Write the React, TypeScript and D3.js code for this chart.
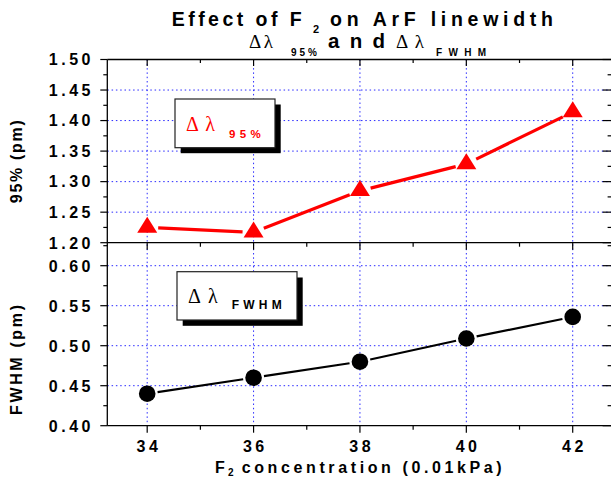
import React from 'react';
import * as d3 from 'd3';

// ---- data ----
const concentrations = [34, 36, 38, 40, 42];
const width95 = [1.225, 1.217, 1.285, 1.329, 1.414];
const widthFWHM = [0.44, 0.46, 0.48, 0.509, 0.536];

const xMajorTicks = [34, 36, 38, 40, 42];
const xMinorTicks = [35, 37, 39, 41];
const topMajorTicks = [1.2, 1.25, 1.3, 1.35, 1.4, 1.45, 1.5];
const topMinorTicks = [1.225, 1.275, 1.325, 1.375, 1.425, 1.475];
const botMajorTicks = [0.4, 0.45, 0.5, 0.55, 0.6];
const botMinorTicks = [0.425, 0.475, 0.525, 0.575, 0.625];

const SANS = '"Liberation Sans", Arial, sans-serif';
const SERIF = '"Liberation Serif", "Times New Roman", serif';
const GRID = '#2b2bff';

export default function App() {
  const W = 611, H = 481;
  const x = d3.scaleLinear().domain([33.25, 42.75]).range([107.3, 612.6]);
  const yTop = d3.scaleLinear().domain([1.2, 1.5]).range([242.7, 59.5]);
  const yBot = d3.scaleLinear().domain([0.4, 0.62875]).range([425.7, 242.7]);
  const fmt = d3.format('.2f');

  const left = x.range()[0], right = x.range()[1];
  const topY = yTop.range()[1], midY = yTop.range()[0], botY = yBot.range()[0];

  const topPts = concentrations.map((c, i) => [x(c), yTop(width95[i])]);
  const botPts = concentrations.map((c, i) => [x(c), yBot(widthFWHM[i])]);

  const segs = (pts: number[][], gap: number) =>
    pts.slice(0, -1).map((p, i) => {
      const q = pts[i + 1];
      const dx = q[0] - p[0], dy = q[1] - p[1];
      const L = Math.hypot(dx, dy);
      const ux = dx / L, uy = dy / L;
      return [p[0] + ux * gap, p[1] + uy * gap, q[0] - ux * gap, q[1] - uy * gap];
    });

  const tri = (cx: number, cy: number) =>
    `M${cx},${cy - 10.7}L${cx + 10},${cy + 5.3}L${cx - 10},${cy + 5.3}Z`;

  const hGrid = (ticks: number[], y: (v: number) => number, key: string) =>
    ticks.map((t) => (
      <line key={key + t} x1={left} x2={right} y1={y(t)} y2={y(t)}
        stroke={GRID} strokeWidth={1} strokeDasharray="1.5,2.8" />
    ));

  const vGrid = xMajorTicks.map((t) => (
    <line key={'vg' + t} x1={x(t)} x2={x(t)} y1={topY} y2={botY}
      stroke={GRID} strokeWidth={1} strokeDasharray="1.5,2.8" />
  ));

  const leftTicks = (maj: number[], min: number[], y: (v: number) => number, key: string) => (
    <g>
      {maj.map((t) => (
        <line key={key + 'M' + t} x1={left - 7} x2={left} y1={y(t)} y2={y(t)} stroke="#000" strokeWidth={1.2} />
      ))}
      {min.map((t) => (
        <line key={key + 'm' + t} x1={left - 4} x2={left} y1={y(t)} y2={y(t)} stroke="#000" strokeWidth={1.2} />
      ))}
      {maj.map((t) => (
        <line key={key + 'RM' + t} x1={right - 10} x2={right} y1={y(t)} y2={y(t)} stroke="#000" strokeWidth={1.2} />
      ))}
      {min.map((t) => (
        <line key={key + 'Rm' + t} x1={right - 5} x2={right} y1={y(t)} y2={y(t)} stroke="#000" strokeWidth={1.2} />
      ))}
      {maj.map((t) => (
        <text key={key + 'L' + t} x={94} y={y(t) + 5.8} textAnchor="end" fontFamily={SANS}
          fontWeight="bold" fontSize={16} letterSpacing={3.5} fill="#000">{fmt(t)}</text>
      ))}
    </g>
  );

  const xTickRow = (yy: number, key: string, majLen: number, minLen: number) => (
    <g>
      {xMajorTicks.map((t) => (
        <line key={key + 'M' + t} x1={x(t)} x2={x(t)} y1={yy} y2={yy + majLen} stroke="#000" strokeWidth={1.2} />
      ))}
      {xMinorTicks.map((t) => (
        <line key={key + 'm' + t} x1={x(t)} x2={x(t)} y1={yy} y2={yy + minLen} stroke="#000" strokeWidth={1.2} />
      ))}
    </g>
  );

  return (
    <svg width={W} height={H} style={{ position: 'absolute', left: 0, top: 0, background: '#fff' }}>
      <rect x={0} y={0} width={W} height={H} fill="#fff" />
      {/* grids */}
      {hGrid(topMajorTicks.filter((t) => t > 1.2 && t < 1.5), yTop, 'tg')}
      {hGrid(botMajorTicks.filter((t) => t > 0.4), yBot, 'bg')}
      {vGrid}

      {/* axes frame */}
      <line x1={left} x2={right} y1={topY} y2={topY} stroke="#000" strokeWidth={1.3} />
      <line x1={left} x2={right} y1={midY} y2={midY} stroke="#000" strokeWidth={1.3} />
      <line x1={left} x2={right} y1={botY} y2={botY} stroke="#000" strokeWidth={1.3} />
      <line x1={left} x2={left} y1={topY} y2={botY} stroke="#000" strokeWidth={1.3} />
      <line x1={right} x2={right} y1={topY} y2={botY} stroke="#000" strokeWidth={1.3} />

      {xTickRow(topY, 'tt', 6.5, 3.5)}
      {xTickRow(midY, 'mt', 7, 4)}
      {xTickRow(botY, 'bt', 7, 4)}
      {leftTicks(topMajorTicks, topMinorTicks, yTop, 'ty')}
      {leftTicks(botMajorTicks, botMinorTicks, yBot, 'by')}

      {/* x tick labels */}
      {xMajorTicks.map((t) => (
        <text key={'xl' + t} x={x(t)} dx={1.75} y={451.7} textAnchor="middle" fontFamily={SANS}
          fontWeight="bold" fontSize={16} letterSpacing={3.5} fill="#000">{t}</text>
      ))}

      {/* axis titles */}
      <text transform="translate(22,161.7) rotate(-90)" textAnchor="middle" fontFamily={SANS}
        fontWeight="bold" fontSize={16} textLength={83} lengthAdjust="spacing" fill="#000">95% (pm)</text>
      <text transform="translate(22,360) rotate(-90)" textAnchor="middle" fontFamily={SANS}
        fontWeight="bold" fontSize={16} textLength={110} lengthAdjust="spacing" fill="#000">FWHM (pm)</text>

      <text x={215} y={472.7} fontFamily={SANS} fontWeight="bold" fontSize={16} fill="#000">F</text>
      <text x={228} y={476} fontFamily={SANS} fontWeight="bold" fontSize={10} fill="#000">2</text>
      <text x={241.7} y={472.7} fontFamily={SANS} fontWeight="bold" fontSize={16}
        textLength={260} lengthAdjust="spacing" fill="#000">concentration (0.01kPa)</text>

      {/* title */}
      <text x={171.7} y={26} fontFamily={SANS} fontWeight="bold" fontSize={19.5}
        textLength={130} lengthAdjust="spacing" fill="#000">Effect of F</text>
      <text x={313} y={32.5} fontFamily={SANS} fontWeight="bold" fontSize={11} fill="#000">2</text>
      <text x={330} y={26} fontFamily={SANS} fontWeight="bold" fontSize={19.5}
        textLength={223} lengthAdjust="spacing" fill="#000">on ArF linewidth</text>

      <text x={249} y={47.5} fontFamily={SERIF} fontSize={19}
        textLength={24} lengthAdjust="spacing" fill="#000">Δ λ</text>
      <text x={291} y={55.5} fontFamily={SANS} fontWeight="bold" fontSize={10}
        textLength={26} lengthAdjust="spacing" fill="#000">95%</text>
      <text x={328} y={47.5} fontFamily={SANS} fontWeight="bold" fontSize={20.5}
        textLength={57} lengthAdjust="spacing" fill="#000">and</text>
      <text x={396} y={47.5} fontFamily={SERIF} fontSize={19}
        textLength={28} lengthAdjust="spacing" fill="#000">Δ λ</text>
      <text x={436} y={55.5} fontFamily={SANS} fontWeight="bold" fontSize={10}
        textLength={50} lengthAdjust="spacing" fill="#000">FWHM</text>

      {/* legends */}
      <rect x={180.7} y={104.5} width={100} height={48.7} fill="#000" />
      <rect x={175} y={99} width={100} height={48.7} fill="#fff" stroke="#222" strokeWidth={1.2} />
      <text x={186} y={131} fontFamily={SERIF} fontSize={20} textLength={29}
        lengthAdjust="spacing" fill="#ff0000">Δ λ</text>
      <text x={229} y={137.7} fontFamily={SANS} fontWeight="bold" fontSize={11.5} textLength={31.7}
        lengthAdjust="spacing" fill="#ff0000">95%</text>

      <rect x={182.7} y={277.5} width={120} height={48.3} fill="#000" />
      <rect x={177} y={271.7} width={120} height={48.3} fill="#fff" stroke="#222" strokeWidth={1.2} />
      <text x={188} y={303} fontFamily={SERIF} fontSize={20} textLength={29.7}
        lengthAdjust="spacing" fill="#000">Δ λ</text>
      <text x={231.7} y={309.3} fontFamily={SANS} fontWeight="bold" fontSize={12} textLength={50}
        lengthAdjust="spacing" fill="#000">FWHM</text>

      {/* series lines */}
      {segs(topPts, 11).map((s, i) => (
        <line key={'rs' + i} x1={s[0]} y1={s[1]} x2={s[2]} y2={s[3]} stroke="#ff0000" strokeWidth={3.2} />
      ))}
      {segs(botPts, 10.5).map((s, i) => (
        <line key={'bs' + i} x1={s[0]} y1={s[1]} x2={s[2]} y2={s[3]} stroke="#000" strokeWidth={2.2} />
      ))}
      {topPts.map((p, i) => (
        <path key={'tr' + i} d={tri(p[0], p[1])} fill="#ff0000" />
      ))}
      {botPts.map((p, i) => (
        <circle key={'ci' + i} cx={p[0]} cy={p[1]} r={8.3} fill="#000" />
      ))}
    </svg>
  );
}
